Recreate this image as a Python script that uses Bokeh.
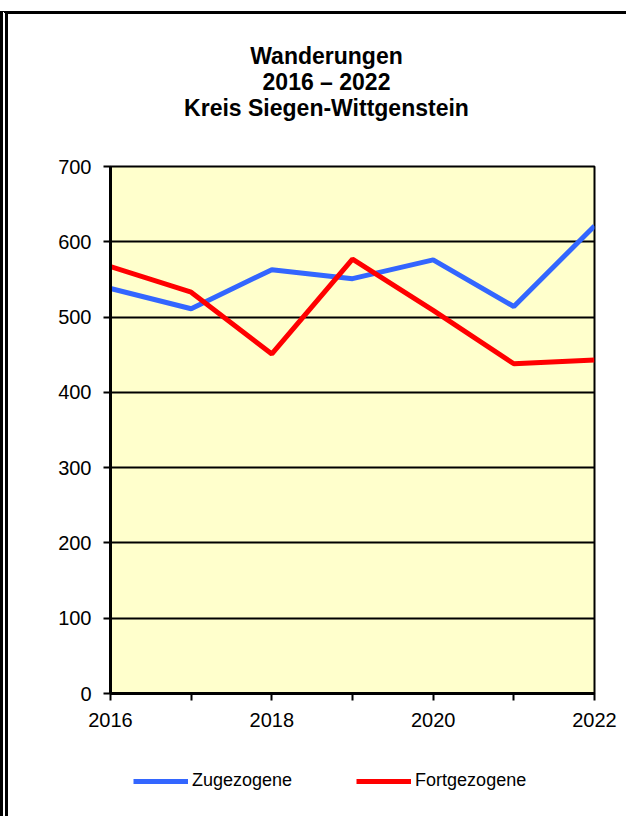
from bokeh.plotting import figure
from bokeh.layouts import column
from bokeh.models import Range1d, FixedTicker, Legend, LegendItem
from bokeh.core.properties import value
from bokeh.embed import file_html
from bokeh.resources import INLINE

# ---- data ----
years = [2016, 2017, 2018, 2019, 2020, 2021, 2022]
zugezogene = [538, 511, 563, 551, 576, 514, 621]
fortgezogene = [567, 533, 451, 577, 509, 438, 443]
series_names = ["Zugezogene", "Fortgezogene"]
series_colors = ["#3366FF", "#FF0000"]
y_ticks = [0, 100, 200, 300, 400, 500, 600, 700]
x_tick_labels = ["2016", "", "2018", "", "2020", "", "2022"]
title_lines = ["Wanderungen", "2016 \u2013 2022", "Kreis Siegen-Wittgenstein"]

FONT = "Liberation Sans"
FRAME_W, FRAME_H = 484, 527
BL, BR = 102, 32
TITLE_H, MAIN_H, LEG_H = 136, 593, 73


def strip(height, y_range):
    f = figure(frame_width=FRAME_W, height=height, output_backend="svg",
               toolbar_location=None, x_range=Range1d(0, FRAME_W), y_range=y_range,
               x_axis_type=None, y_axis_type=None, min_border_left=BL,
               min_border_right=BR, min_border_top=0, min_border_bottom=0,
               outline_line_color=None, border_fill_color="white",
               background_fill_color="white")
    f.xgrid.visible = False
    f.ygrid.visible = False
    return f


# ---- title strip (coordinates: px from frame left / strip top) ----
pt = strip(TITLE_H, Range1d(TITLE_H, 0))
pt.text(x=[216, 216, 216], y=[41, 67, 93], text=title_lines,
        text_align="center", text_baseline="alphabetic",
        text_font=value(FONT), text_font_size=value("23px"),
        text_font_style="bold", text_color="black")

# ---- main chart ----
p = figure(frame_width=FRAME_W, frame_height=FRAME_H, output_backend="svg",
           toolbar_location=None, title=None,
           x_range=Range1d(years[0], years[-1]), y_range=Range1d(y_ticks[0], y_ticks[-1]),
           min_border_left=BL, min_border_right=BR, min_border_top=16,
           min_border_bottom=MAIN_H - 16 - FRAME_H, background_fill_color="#FFFFCC",
           border_fill_color="white")
p.outline_line_color = "black"
p.outline_line_width = 2

p.xgrid.grid_line_color = None
p.ygrid.ticker = FixedTicker(ticks=y_ticks)
p.ygrid.grid_line_color = "black"
p.ygrid.grid_line_width = 2

p.xaxis.ticker = FixedTicker(ticks=years)
p.xaxis.major_label_overrides = {y: l for y, l in zip(years, x_tick_labels)}
p.yaxis.ticker = FixedTicker(ticks=y_ticks)
for ax in (p.xaxis, p.yaxis):
    ax.axis_line_color = "black"
    ax.axis_line_width = 3
    ax.major_tick_line_color = "black"
    ax.major_tick_line_width = 2
    ax.major_tick_in = 0
    ax.major_tick_out = 7
    ax.minor_tick_line_color = None
    ax.major_label_text_font = FONT
    ax.major_label_text_font_size = "20px"
    ax.major_label_text_color = "black"
p.xaxis.major_label_standoff = 12
p.yaxis.major_label_standoff = 12

p.line(years, zugezogene, line_color=series_colors[0], line_width=5)
p.line(years, fortgezogene, line_color=series_colors[1], line_width=5)

# ---- legend strip (series drawn off-range; only their legend glyphs show) ----
pl = strip(LEG_H, Range1d(0, 1))
items = []
for name, col, vals in zip(series_names, series_colors, [zugezogene, fortgezogene]):
    r = pl.line(x=years, y=vals, line_color=col, line_width=5)
    items.append(LegendItem(label=name, renderers=[r]))
lg = Legend(items=items, location=(23, 25), orientation="horizontal",
            glyph_width=55, glyph_height=20, label_standoff=4, spacing=64,
            padding=0, margin=0, border_line_alpha=0, background_fill_alpha=0,
            label_text_font=FONT, label_text_font_size="18px", label_text_color="black")
pl.add_layout(lg)

layout = column(pt, p, pl, spacing=0)
layout.styles = {"border-top": "3px solid black", "border-left": "8px double black",
                 "margin-top": "11px", "margin-left": "0px"}

open("out.html", "w").write(file_html(layout, INLINE))
